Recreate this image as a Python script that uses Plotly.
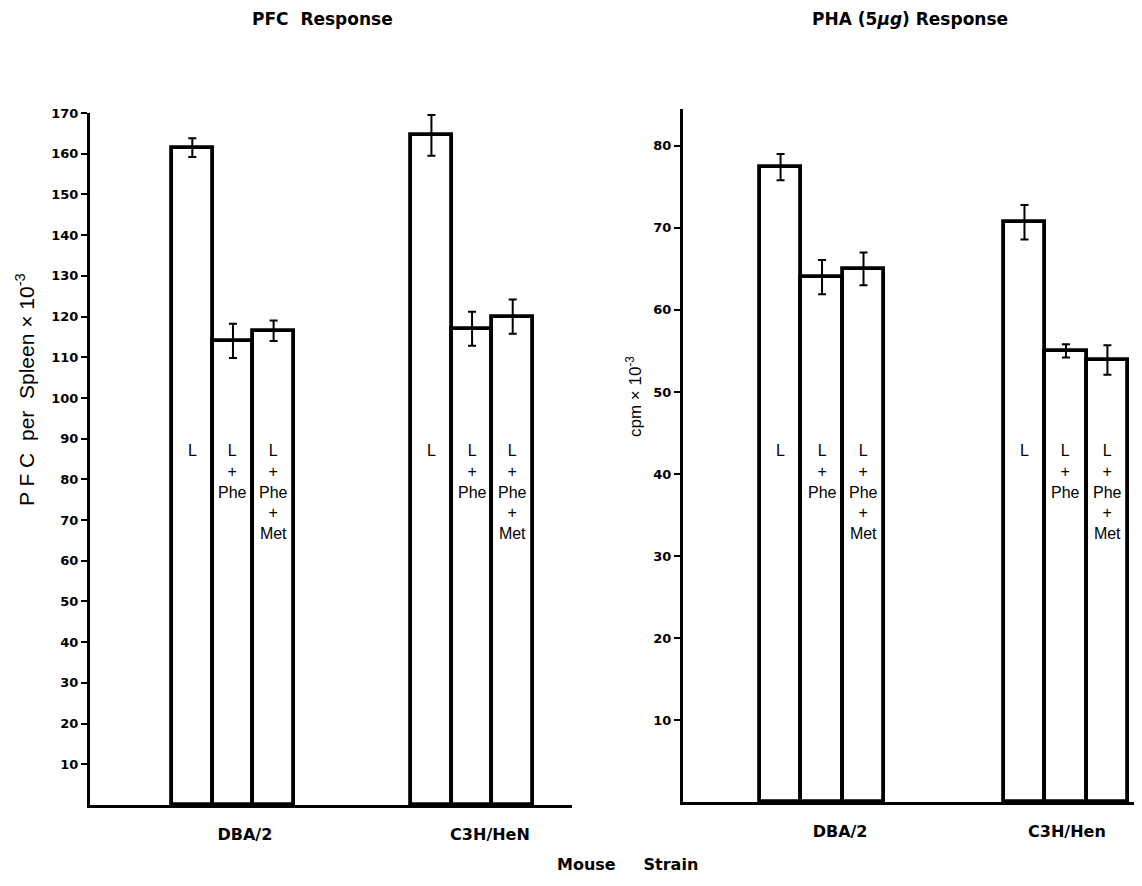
import plotly.graph_objects as go

# ---------------- data ----------------
strains_left = ["DBA/2", "C3H/HeN"]
strains_right = ["DBA/2", "C3H/Hen"]
treatments = ["L", "L + Phe", "L + Phe + Met"]
bar_labels = ["L", "L<br>+<br>Phe", "L<br>+<br>Phe<br>+<br>Met"]

# PFC response (PFC per spleen x 10^-3)
pfc_dba = [161.5, 114.0, 116.5]
pfc_dba_err = [2.3, 4.2, 2.5]
pfc_c3h = [164.5, 117.0, 120.0]
pfc_c3h_err = [5.0, 4.2, 4.2]

# PHA (5 ug) response (cpm x 10^-3)
pha_dba = [77.4, 64.0, 65.0]
pha_dba_err = [1.6, 2.1, 2.0]
pha_c3h = [70.7, 55.0, 53.9]
pha_c3h_err = [2.1, 0.8, 1.8]

pfc_ticks = list(range(10, 171, 10))
pha_ticks = list(range(10, 81, 10))

# ---------------- style / layout helpers ----------------
BAR_W = 0.17
TXT = "Liberation Sans"
WIDE = "DejaVu Sans"
BLACK = "#000000"
OFF = 8                      # page (body) margin around the figure
FW, FH = 1142 - 2 * OFF, 886 - 2 * OFF


def fx(px):
    return min(1.0, max(0.0, (px - OFF) / FW))


def fy(py):
    return min(1.0, max(0.0, 1 - (py - OFF) / FH))


def positions(n_groups, n_bars):
    out = []
    for g in range(n_groups):
        for k in range(n_bars):
            out.append(g + (k - (n_bars - 1) / 2) * BAR_W)
    return out


xs = positions(2, len(treatments))

fig = go.Figure()

fig.add_trace(go.Bar(
    x=xs, y=pfc_dba + pfc_c3h, width=BAR_W,
    marker=dict(color="white", line=dict(color=BLACK, width=3.8)),
    error_y=dict(type="data", array=pfc_dba_err + pfc_c3h_err,
                 color=BLACK, thickness=2, width=4),
    xaxis="x", yaxis="y", showlegend=False,
    hovertext=[f"{s} {t}" for s in strains_left for t in treatments],
))
fig.add_trace(go.Bar(
    x=xs, y=pha_dba + pha_c3h, width=BAR_W,
    marker=dict(color="white", line=dict(color=BLACK, width=3.8)),
    error_y=dict(type="data", array=pha_dba_err + pha_c3h_err,
                 color=BLACK, thickness=2, width=4),
    xaxis="x2", yaxis="y2", showlegend=False,
    hovertext=[f"{s} {t}" for s in strains_right for t in treatments],
))

axis_common = dict(showline=True, linecolor=BLACK, linewidth=3,
                   showgrid=False, zeroline=False, automargin=False)
xtickfont = dict(family=WIDE, size=16, color=BLACK, weight="bold")
ytickfont = dict(family=WIDE, size=13, color=BLACK, weight="bold")

fig.update_layout(
    template="none",
    width=FW, height=FH,
    margin=dict(l=0, r=0, t=0, b=0, autoexpand=False),
    paper_bgcolor="white", plot_bgcolor="white",
    font=dict(color=BLACK),
    bargap=0, barmode="overlay",
    xaxis=dict(domain=[fx(90), fx(572)], range=[-0.598, 1.418],
               tickvals=[0.05, 1.075], ticktext=strains_left, tickangle=0,
               ticks="", ticklabelstandoff=13, tickfont=xtickfont,
               anchor="y", **axis_common),
    yaxis=dict(domain=[fy(805), fy(113)], range=[0, 170],
               tickvals=pfc_ticks, ticks="outside", ticklen=6, tickwidth=2,
               tickcolor=BLACK, tickfont=ytickfont,
               anchor="x", **axis_common),
    xaxis2=dict(domain=[fx(683), fx(1134)], range=[-0.570, 1.279],
                tickvals=[0.074, 1.004], ticktext=strains_right, tickangle=0,
                ticks="", ticklabelstandoff=13, tickfont=xtickfont,
                anchor="y2", **axis_common),
    yaxis2=dict(domain=[fy(802), fy(109)], range=[0, 84.5],
                tickvals=pha_ticks, ticks="outside", ticklen=6, tickwidth=2,
                tickcolor=BLACK, tickfont=ytickfont,
                anchor="x2", **axis_common),
)

annotations = []
# labels inside the bars
for xref in ["x", "x2"]:
    for i, x in enumerate(xs):
        annotations.append(dict(
            x=x, xref=xref, y=fy(440), yref="paper",
            yanchor="top", xanchor="center", showarrow=False,
            text=bar_labels[i % len(bar_labels)],
            font=dict(family=TXT, size=16, color=BLACK),
        ))

# panel titles
annotations.append(dict(x=fx(322), y=fy(19), xref="paper", yref="paper",
                        text="PFC  Response", showarrow=False,
                        font=dict(family=WIDE, size=17, color=BLACK, weight="bold"),
                        xanchor="center", yanchor="middle"))
annotations.append(dict(x=fx(910), y=fy(19), xref="paper", yref="paper",
                        text="PHA (5<i>μg</i>) Response", showarrow=False,
                        font=dict(family=WIDE, size=17, color=BLACK, weight="bold"),
                        xanchor="center", yanchor="middle"))
# axis titles
annotations.append(dict(x=fx(25), y=fy(390), xref="paper", yref="paper",
                        text="P F C  per  Spleen × 10<sup>-3</sup>", showarrow=False,
                        textangle=-90,
                        font=dict(family=TXT, size=21, color=BLACK),
                        xanchor="center", yanchor="middle"))
annotations.append(dict(x=fx(634), y=fy(397), xref="paper", yref="paper",
                        text="cpm × 10<sup>-3</sup>", showarrow=False,
                        textangle=-90,
                        font=dict(family=TXT, size=17, color=BLACK),
                        xanchor="center", yanchor="middle"))
annotations.append(dict(x=fx(627), y=fy(864), xref="paper", yref="paper",
                        text="Mouse     Strain", showarrow=False,
                        font=dict(family=WIDE, size=16, color=BLACK, weight="bold"),
                        xanchor="center", yanchor="middle"))

fig.update_layout(annotations=annotations)

fig.write_html("out.html")
